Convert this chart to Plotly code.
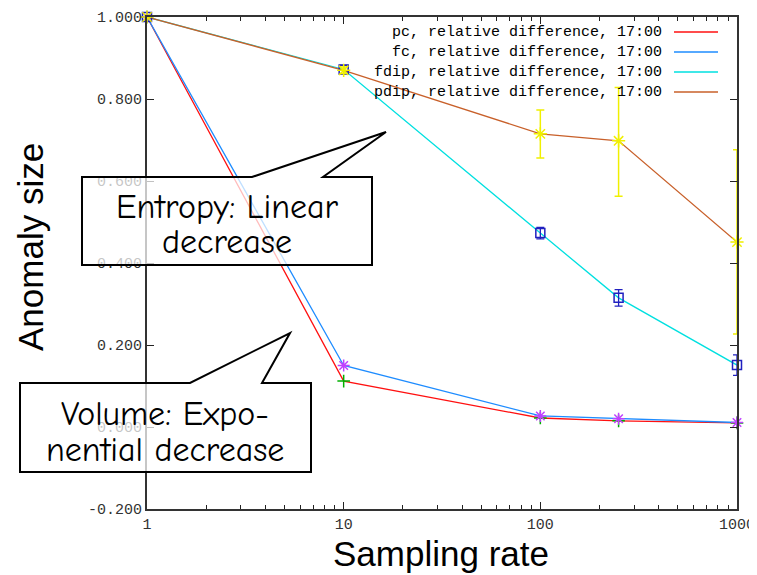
import plotly.graph_objects as go

# ---------------- data ----------------
rates = [1, 10, 100, 250, 1000]
pc = [1.0, 0.112, 0.022, 0.015, 0.010]
fc = [1.0, 0.150, 0.027, 0.020, 0.011]
fdip = [1.0, 0.872, 0.473, 0.315, 0.151]
fdip_err = [0.0, 0.010, 0.014, 0.020, 0.025]
pdip = [1.0, 0.870, 0.715, 0.698, 0.451]
pdip_err_plus = [0.0, 0.008, 0.058, 0.130, 0.225]
pdip_err_minus = [0.0, 0.008, 0.059, 0.135, 0.224]

series_names = ["pc, relative difference, 17:00",
                "fc, relative difference, 17:00",
                "fdip, relative difference, 17:00",
                "pdip, relative difference, 17:00"]
line_colors = ["#ff1010", "#1e8cff", "#00e0e0", "#c8602a"]

y_ticks = [-0.2, 0.0, 0.2, 0.4, 0.6, 0.8, 1.0]
y_ticktext = ["-0.200", "0.000", "0.200", "0.400", "0.600", "0.800", "1.000"]
x_ticks = [1, 10, 100, 1000]
x_ticktext = ["1", "10", "100", "1000"]
x_minor = [2, 3, 4, 5, 6, 7, 8, 9, 20, 30, 40, 50, 60, 70, 80, 90,
           200, 300, 400, 500, 600, 700, 800, 900]

# ---------------- geometry (screen pixels; page body has an 8px margin) ----
OFF = 8
W, H = 757 - OFF, 575 - OFF
L, R, T, B = 147, 737, 17, 509  # plot area in screen pixels


def px(x):
    return (x - L) / (R - L)


def py(y):
    return (B - y) / (B - T)


fig = go.Figure()

# lines
for vals, col in zip([pc, fc, fdip, pdip], line_colors):
    fig.add_trace(go.Scatter(x=rates, y=vals, mode="lines",
                             line=dict(color=col, width=1.3),
                             showlegend=False, cliponaxis=False))

# points / error bars
fig.add_trace(go.Scatter(x=rates, y=pc, mode="markers",
                         marker=dict(symbol="cross-thin", size=9,
                                     line=dict(color="#00b000", width=1.5)),
                         showlegend=False, cliponaxis=False))
fig.add_trace(go.Scatter(x=rates, y=fc, mode="markers",
                         marker=dict(symbol="asterisk", size=10,
                                     line=dict(color="#c040ff", width=1.5)),
                         showlegend=False, cliponaxis=False))
fig.add_trace(go.Scatter(x=rates, y=fdip, mode="markers",
                         marker=dict(symbol="square-open", size=9,
                                     line=dict(color="#2020c0", width=1.5),
                                     color="#2020c0"),
                         error_y=dict(type="data", array=fdip_err,
                                      color="#2020c0", thickness=1.3, width=4),
                         showlegend=False, cliponaxis=False))
fig.add_trace(go.Scatter(x=rates, y=pdip, mode="markers",
                         marker=dict(symbol="asterisk", size=11,
                                     line=dict(color="#f0f000", width=1.5)),
                         error_y=dict(type="data", symmetric=False,
                                      array=pdip_err_plus,
                                      arrayminus=pdip_err_minus,
                                      color="#f0f000", thickness=1.5, width=4),
                         showlegend=False, cliponaxis=False))

mono = "Liberation Mono, DejaVu Sans Mono, monospace"

fig.update_layout(
    width=W, height=H,
    margin=dict(l=L - OFF, r=757 - R, t=T - OFF, b=575 - B, autoexpand=False),
    paper_bgcolor="white", plot_bgcolor="white",
    showlegend=False,
    xaxis=dict(type="log", range=[0, 3], tickvals=x_ticks, ticktext=x_ticktext,
               ticks="inside", ticklen=7, tickcolor="#222", tickwidth=1,
               minor=dict(tickvals=x_minor, ticks="inside", ticklen=4,
                          tickcolor="#222", tickwidth=1),
               showline=True, linecolor="#333", linewidth=2, mirror="allticks",
               showgrid=False, zeroline=False, automargin=False,
               layer="above traces",
               tickfont=dict(family=mono, size=15, color="#333")),
    yaxis=dict(range=[-0.2, 1.0], tickvals=y_ticks, ticktext=y_ticktext,
               ticks="inside", ticklen=7, tickcolor="#222", tickwidth=1,
               showline=True, linecolor="#333", linewidth=2, mirror="allticks",
               showgrid=False, zeroline=False, automargin=False,
               layer="above traces",
               tickfont=dict(family=mono, size=15, color="#333")),
)

# axis titles
sans = "Liberation Sans, Arial, sans-serif"
fig.add_annotation(x=px(441), y=py(553), xref="paper", yref="paper",
                   text="Sampling rate", showarrow=False,
                   xanchor="center", yanchor="middle",
                   font=dict(family=sans, size=35, color="black"))
fig.add_annotation(x=px(30), y=py(247), xref="paper", yref="paper",
                   text="Anomaly size", showarrow=False, textangle=-90,
                   xanchor="center", yanchor="middle",
                   font=dict(family=sans, size=35, color="black"))

# legend (gnuplot style: text right-aligned, sample line to the right)
leg_y = [32, 52, 72, 92]
for name, col, yy in zip(series_names, line_colors, leg_y):
    fig.add_annotation(x=px(664), y=py(yy), xref="paper", yref="paper",
                       text=name, showarrow=False, xanchor="right",
                       yanchor="middle",
                       font=dict(family=mono, size=15, color="black"))
    fig.add_shape(type="line", xref="paper", yref="paper",
                  x0=px(674), x1=px(718), y0=py(yy), y1=py(yy),
                  line=dict(color=col, width=1.5))


# callouts
def callout(pts):
    d = "M " + " L ".join(f"{px(a):.5f},{py(b):.5f}" for a, b in pts) + " Z"
    fig.add_shape(type="path", path=d, xref="paper", yref="paper",
                  fillcolor="rgba(255,255,255,0.72)",
                  line=dict(color="black", width=2), layer="above")


callout([(82, 177), (252, 177), (386, 132), (323, 177), (372, 177),
         (372, 265), (82, 265)])
callout([(20, 383), (190, 383), (290, 333), (262, 383), (311, 383),
         (311, 472), (20, 472)])

comic = "Comic Sans MS, Comic Neue, Noto Sans, sans-serif"
callout_lines = [("Entropy: Linear", 227, 207), ("decrease", 227, 242),
                 ("Volume: Expo-", 165, 414), ("nential decrease", 165, 450)]
for txt, cx, cy in callout_lines:
    fig.add_annotation(x=px(cx), y=py(cy), xref="paper", yref="paper",
                       text=txt, showarrow=False,
                       font=dict(family=comic, size=34, color="black"),
                       xanchor="center", yanchor="middle")

fig.write_html("out.html")
